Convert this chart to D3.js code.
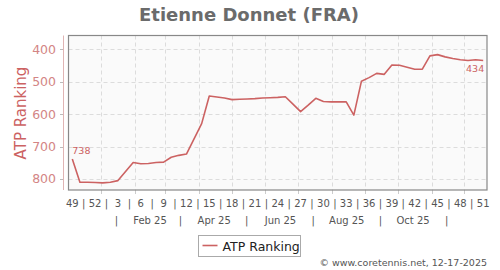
<!DOCTYPE html>
<html>
<head>
<meta charset="utf-8">
<script src="https://cdn.jsdelivr.net/npm/d3@7"></script>
<style>
  body { margin: 0; background: #fff; }
  svg text { font-family: "DejaVu Sans", sans-serif; }
</style>
</head>
<body>
<div id="chart"></div>
<script>
// weekly ATP ranking, week 49 of 2024 to week 51 of 2025
const ranks = [
  738, 810, 810, 811, 812, 810, 805, 777, 749, 753,
  752, 749, 748, 733, 727, 723, 676, 629, 544, 547,
  550, 555, 554, 553, 552, 550, 549, 548, 546, 569,
  592, 572, 551, 561, 562, 562, 562, 603, 498, 487,
  474, 477, 448, 449, 455, 461, 461, 420, 416, 423,
  428, 432, 434, 432, 434
];
const weekLabels = ['49', '52', '3', '6', '9', '12', '15', '18', '21', '24', '27', '30', '33', '36', '39', '42', '45', '48', '51'];
const monthLabels = ['Feb 25', 'Apr 25', 'Jun 25', 'Aug 25', 'Oct 25'];
const yTicks = [400, 500, 600, 700, 800];

const W = 500, H = 270;
const pLeft = 68.5, pRight = 487, pTop = 35.5, pBottom = 190;
const red = '#cc6262';
const DAY = 864e5;
const start = Date.UTC(2024, 11, 2);
const end = Date.UTC(2025, 11, 22);

const svg = d3.select('#chart').append('svg').attr('width', W).attr('height', H);

const x = d3.scaleUtc().domain([new Date(start), new Date(end)]).range([pLeft, pRight]);
const y = d3.scaleLinear().domain([357, 834]).range([pTop, pBottom]);

// point date = middle of each ranking week
const dateOf = (i) => new Date(start + (i + 0.5) * 7 * DAY);

// title
svg.append('text')
  .attr('x', 249).attr('y', 21)
  .attr('text-anchor', 'middle')
  .style('font-size', '18px').style('font-weight', 'bold').style('fill', '#6b6b6b')
  .text('Etienne Donnet (FRA)');

// plot background
svg.append('rect')
  .attr('x', pLeft).attr('y', pTop)
  .attr('width', pRight - pLeft).attr('height', pBottom - pTop)
  .style('fill', '#fafafa');

// month gridlines
const months = d3.utcMonth.range(new Date(Date.UTC(2025, 0, 1)), new Date(end));
svg.append('g').selectAll('line')
  .data(months).enter().append('line')
  .attr('x1', (d) => Math.round(x(d)) + 0.5).attr('x2', (d) => Math.round(x(d)) + 0.5)
  .attr('y1', pTop).attr('y2', pBottom)
  .style('stroke', '#dcdcdc').style('stroke-dasharray', '4,3');

// month ticks under the plot
svg.append('g').selectAll('line')
  .data(months).enter().append('line')
  .attr('x1', (d) => Math.round(x(d)) + 0.5).attr('x2', (d) => Math.round(x(d)) + 0.5)
  .attr('y1', pBottom).attr('y2', pBottom + 4)
  .style('stroke', '#ccc');

// horizontal gridlines
svg.append('g').selectAll('line')
  .data(yTicks).enter().append('line')
  .attr('x1', pLeft).attr('x2', pRight)
  .attr('y1', (d) => Math.round(y(d)) + 0.5).attr('y2', (d) => Math.round(y(d)) + 0.5)
  .style('stroke', '#dcdcdc').style('stroke-dasharray', '4,3');

// y axis line + ticks
svg.append('line')
  .attr('x1', 63.5).attr('x2', 63.5).attr('y1', pTop).attr('y2', pBottom)
  .style('stroke', '#e0b4b4');
svg.append('g').selectAll('line')
  .data(yTicks).enter().append('line')
  .attr('x1', 60).attr('x2', 63)
  .attr('y1', (d) => Math.round(y(d)) + 0.5).attr('y2', (d) => Math.round(y(d)) + 0.5)
  .style('stroke', '#bbb');
svg.append('g').selectAll('text')
  .data(yTicks).enter().append('text')
  .attr('x', 56).attr('y', (d) => y(d) + 4.5)
  .attr('text-anchor', 'end')
  .style('font-size', '12.5px').style('fill', '#d38585')
  .text(String);

// y axis title
svg.append('text')
  .attr('transform', 'translate(26,113) rotate(-90)')
  .attr('text-anchor', 'middle')
  .style('font-size', '15px').style('fill', red)
  .text('ATP Ranking');

// plot border
svg.append('rect')
  .attr('x', pLeft).attr('y', pTop)
  .attr('width', pRight - pLeft).attr('height', pBottom - pTop)
  .style('fill', 'none').style('stroke', '#888').style('stroke-width', 1.2);

// the ranking line
const line = d3.line()
  .x((d, i) => x(dateOf(i)))
  .y((d) => y(d));
svg.append('path')
  .datum(ranks)
  .attr('d', line)
  .style('fill', 'none').style('stroke', red).style('stroke-width', 1.6)
  .style('stroke-linejoin', 'round');

// first / last value labels
const last = ranks.length - 1;
svg.append('text')
  .attr('x', x(dateOf(0))).attr('y', y(ranks[0]) - 5)
  .style('font-size', '9.5px').style('fill', red)
  .text(ranks[0]);
svg.append('text')
  .attr('x', x(dateOf(last)) + 1).attr('y', y(ranks[last]) + 12)
  .attr('text-anchor', 'end')
  .style('font-size', '9.5px').style('fill', red)
  .text(ranks[last]);

// week labels (every third week) with separators
const weekIdx = weekLabels.map((_, k) => k * 3);
svg.append('g').selectAll('text')
  .data(weekLabels).enter().append('text')
  .attr('x', (d, k) => x(dateOf(weekIdx[k])))
  .attr('y', 207)
  .attr('text-anchor', 'middle')
  .style('font-size', '10px').style('fill', '#555')
  .text(String);
svg.append('g').selectAll('text')
  .data(weekIdx.slice(1)).enter().append('text')
  .attr('x', (d) => x(dateOf(d - 1.5)))
  .attr('y', 207)
  .attr('text-anchor', 'middle')
  .style('font-size', '10px').style('fill', '#555')
  .text('|');

// month labels (every second month) with separators
const monthMid = monthLabels.map((_, k) => new Date(Date.UTC(2025, 1 + k * 2, 15)));
svg.append('g').selectAll('text')
  .data(monthLabels).enter().append('text')
  .attr('x', (d, k) => x(monthMid[k]))
  .attr('y', 224)
  .attr('text-anchor', 'middle')
  .style('font-size', '10px').style('fill', '#555')
  .text(String);
const monthSep = d3.range(monthLabels.length + 1).map((k) => new Date(Date.UTC(2025, k * 2, 15)));
svg.append('g').selectAll('text')
  .data(monthSep).enter().append('text')
  .attr('x', (d) => x(d))
  .attr('y', 224)
  .attr('text-anchor', 'middle')
  .style('font-size', '10px').style('fill', '#555')
  .text('|');

// legend
const lg = svg.append('g').attr('transform', 'translate(198.5,235.5)');
lg.append('rect').attr('width', 102).attr('height', 21)
  .style('fill', '#fff').style('stroke', '#aaa');
lg.append('line').attr('x1', 4).attr('x2', 19).attr('y1', 10).attr('y2', 10)
  .style('stroke', red).style('stroke-width', 1.6);
lg.append('text').attr('x', 24).attr('y', 15)
  .style('font-size', '12.5px').style('fill', '#222')
  .text('ATP Ranking');

// footer
svg.append('text')
  .attr('x', 487).attr('y', 266)
  .attr('text-anchor', 'end')
  .style('font-size', '9.5px').style('fill', '#555')
  .text('\u00a9 www.coretennis.net, 12-17-2025');
</script>
</body>
</html>
